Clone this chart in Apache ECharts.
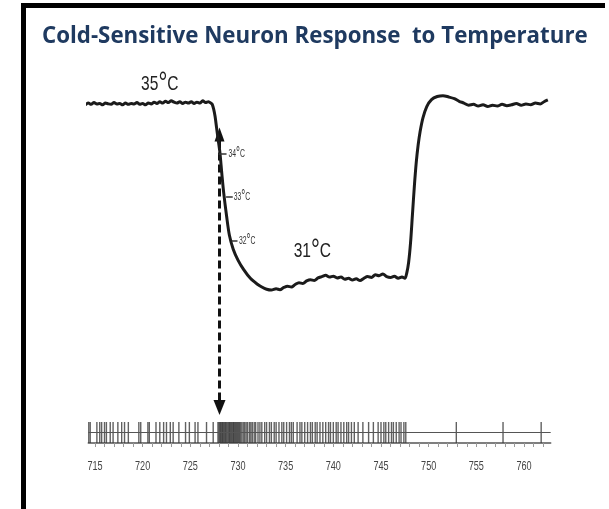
<!DOCTYPE html>
<html>
<head>
<meta charset="utf-8">
<script src="https://cdn.jsdelivr.net/npm/echarts@6/dist/echarts.min.js"></script>
<style>
  html, body { margin: 0; padding: 0; background: #ffffff; }
  #chart { width: 609px; height: 509px; }
</style>
</head>
<body>
<div id="chart"></div>
<script>
// Skin temperature trace (time in s, temperature in °C)
const traceTime = [
  714.0, 714.3, 714.6, 714.9, 715.2, 715.5, 715.8, 716.1, 716.4, 716.7,
  717.0, 717.3, 717.6, 717.9, 718.2, 718.5, 718.8, 719.1, 719.4, 719.7,
  720.0, 720.3, 720.6, 720.9, 721.2, 721.5, 721.8, 722.1, 722.4, 722.7,
  723.0, 723.3, 723.6, 723.9, 724.2, 724.5, 724.8, 725.1, 725.4, 725.7,
  726.0, 726.3, 726.6, 726.9, 727.2, 727.3, 727.45, 727.6, 727.75, 727.9,
  728.1, 728.3, 728.5, 728.8, 729.1, 729.5, 730.0, 730.6, 731.3, 732.0,
  732.5, 733.0, 733.5, 734.0, 734.4, 734.8, 735.2, 735.6, 736.0, 736.4,
  736.8, 737.2, 737.6, 738.0, 738.4, 738.8, 739.2, 739.6, 740.0, 740.4,
  740.8, 741.2, 741.6, 742.0, 742.4, 742.8, 743.2, 743.6, 744.0, 744.4,
  744.8, 745.2, 745.6, 746.0, 746.4, 746.8, 747.2, 747.5, 747.7, 747.9,
  748.1, 748.3, 748.5, 748.7, 748.9, 749.1, 749.4, 749.8, 750.3, 750.9,
  751.5, 752.1, 752.7, 753.2, 753.7, 754.2, 754.7, 755.2, 755.7, 756.2,
  756.7, 757.2, 757.7, 758.2, 758.7, 759.2, 759.7, 760.2, 760.7, 761.2,
  761.7, 762.1, 762.5
];
const traceTemp = [
  35.12, 35.16, 35.13, 35.17, 35.14, 35.15, 35.12, 35.16, 35.14, 35.13,
  35.17, 35.14, 35.15, 35.12, 35.16, 35.13, 35.15, 35.14, 35.17, 35.13,
  35.15, 35.12, 35.16, 35.14, 35.18, 35.15, 35.19, 35.16, 35.20, 35.17,
  35.21, 35.18, 35.16, 35.19, 35.15, 35.18, 35.16, 35.19, 35.15, 35.18,
  35.16, 35.21, 35.17, 35.19, 35.15, 35.13, 35.02, 34.85, 34.60, 34.35,
  34.03, 33.55, 33.10, 32.57, 32.12, 31.80, 31.55, 31.33, 31.13, 31.00,
  30.93, 30.88, 30.86, 30.89, 30.87, 30.92, 30.95, 30.93, 30.99, 31.03,
  31.01, 31.07, 31.10, 31.08, 31.14, 31.17, 31.20, 31.16, 31.18, 31.14,
  31.16, 31.11, 31.13, 31.09, 31.12, 31.08, 31.13, 31.17, 31.15, 31.21,
  31.19, 31.23, 31.17, 31.15, 31.18, 31.13, 31.16, 31.13, 31.25, 31.50,
  31.95, 32.60, 33.25, 33.80, 34.20, 34.50, 34.82, 35.08, 35.24, 35.31,
  35.33, 35.30, 35.26, 35.20, 35.16, 35.11, 35.13, 35.09, 35.12, 35.08,
  35.11, 35.09, 35.13, 35.10, 35.12, 35.15, 35.11, 35.14, 35.12, 35.16,
  35.14, 35.19, 35.23
];

// Action potential times of the cold-sensitive neuron (s)
const spikeTimes = [
  714.35, 714.5,
  715.2, 715.5, 715.7, 716.0, 716.2, 716.6, 716.9, 717.4, 717.8, 718.1, 718.5,
  719.6, 719.8, 720.55, 720.7,
  721.4, 721.8, 722.2, 722.5, 722.9, 723.2, 723.8,
  724.5, 724.9, 725.5, 725.8, 726.7, 727.4,
  727.9, 728.0, 728.1, 728.15, 728.25, 728.35, 728.4, 728.5, 728.6, 728.7,
  728.75, 728.85, 728.95, 729.05, 729.1, 729.2, 729.3, 729.4, 729.5, 729.55,
  729.65, 729.75, 729.85, 729.95, 730.05, 730.15, 730.25, 730.4, 730.55, 730.7,
  730.85,
  731.0, 731.2, 731.35, 731.5, 731.7, 731.85, 732.1, 732.3, 732.5, 732.8,
  733.0, 733.3, 733.5, 733.8, 734.0, 734.3, 734.6, 734.8, 735.1, 735.4,
  735.6, 735.8, 736.2, 736.5, 736.7, 737.0, 737.3, 737.6, 737.8, 738.1,
  738.3, 738.6, 738.9, 739.2, 739.5, 739.7, 740.0, 740.3, 740.5, 740.8,
  741.1, 741.4, 741.6, 741.9, 742.2, 742.6, 743.1, 743.7, 744.2, 744.7,
  745.0, 745.3, 745.5, 745.8, 746.1, 746.3, 746.6, 746.9, 747.1, 747.4,
  747.6,
  752.9, 757.8, 761.8
];

// Time axis labels (s)
const timeLabels = [715, 720, 725, 730, 735, 740, 745, 750, 755, 760];

// Temperature levels marked along the cooling ramp
const levelTemps = [34, 33, 32];
const levelNums = ['34', '33', '32'];

// Plateau annotations
const plateauNums = ['35', '31'];

// Onset of the high-frequency burst (s)
const burstOnset = 728;

// ---------------------------------------------------------------------------
// Layout (annotation placement, kept apart from the data)
const T_MIN = 714.3, T_MAX = 762.8;
const GRID_LEFT = 88.3, GRID_RIGHT = 58.3;
const plateauLabelPos = [[721.8, 35.6], [737.8, 31.76]];
const levelTickSpan = [[727.95, 728.8], [728.75, 729.45], [729.35, 729.95]];
const levelLabelX = [729.0, 729.55, 730.1];
const minorTicks = [];
for (let t = 715; t <= 762; t++) minorTicks.push(t);

const narrowFont = 'Liberation Sans, Arial, sans-serif';

const chart = echarts.init(document.getElementById('chart'), null, { renderer: 'canvas' });

const option = {
  animation: false,
  backgroundColor: '#ffffff',
  title: {
    text: 'Cold-Sensitive Neuron Response  to Temperature',
    left: 37,
    top: 21,
    textStyle: {
      fontFamily: 'Open Sans',
      fontWeight: 'bold',
      fontSize: 22.3,
      color: '#1f3a60'
    }
  },
  grid: [
    { left: GRID_LEFT, right: GRID_RIGHT, top: 70.85, height: 234.9 },
    { left: GRID_LEFT, right: GRID_RIGHT, top: 422, height: 21 }
  ],
  xAxis: [
    { gridIndex: 0, type: 'value', min: T_MIN, max: T_MAX, show: false },
    {
      gridIndex: 1, type: 'value', min: T_MIN, max: T_MAX,
      axisLine: { show: true, lineStyle: { color: '#555', width: 1.5 } },
      axisTick: { show: true, customValues: minorTicks, length: 4, lineStyle: { color: '#999', width: 1 } },
      axisLabel: { show: false },
      splitLine: { show: false }
    }
  ],
  yAxis: [
    { gridIndex: 0, type: 'value', min: 30.5, max: 35.9, show: false },
    { gridIndex: 1, type: 'value', min: 0, max: 1, show: false }
  ],
  series: [
    {
      name: 'temperature',
      type: 'line',
      xAxisIndex: 0, yAxisIndex: 0,
      data: traceTime.map((t, i) => [t, traceTemp[i]]),
      showSymbol: false,
      smooth: 0.3,
      lineStyle: { color: '#1b1b1b', width: 3 },
      z: 3
    },
    {
      name: 'levels',
      type: 'scatter',
      xAxisIndex: 0, yAxisIndex: 0,
      data: levelTemps.map((t, i) => [levelLabelX[i], t]),
      symbolSize: 0,
      markLine: {
        silent: true, symbol: 'none',
        label: { show: false },
        lineStyle: { type: 'solid', color: '#333', width: 1.5 },
        data: levelTemps.map((t, i) => [
          { coord: [levelTickSpan[i][0], t] },
          { coord: [levelTickSpan[i][1], t] }
        ])
      }
    },
    {
      name: 'spikes',
      type: 'scatter',
      xAxisIndex: 1, yAxisIndex: 1,
      data: spikeTimes.map(t => [t, 0.5]),
      symbol: 'rect',
      symbolSize: [1.4, 21],
      itemStyle: { color: '#3a3a3a' },
      markLine: {
        silent: true, symbol: 'none',
        label: { show: false },
        lineStyle: { type: 'solid', color: '#555', width: 1.2 },
        data: [{ yAxis: 0.5 }]
      },
      z: 2
    }
  ]
};

chart.setOption(option);

// Condensed text labels placed through the axis scales
const px = (xi, v) => chart.convertToPixel({ xAxisIndex: xi }, v);
const py = (yi, v) => chart.convertToPixel({ yAxisIndex: yi }, v);

// temperature label with a raised degree sign
function degreeText(num, size, color) {
  return {
    text: num + '{d|°}C',
    font: size + 'px ' + narrowFont,
    fill: color,
    rich: {
      d: { font: Math.round(size * 1.45) + 'px ' + narrowFont, fill: color, verticalAlign: 'top', padding: [0, 0, 0, 0] }
    }
  };
}

const texts = [];
plateauNums.forEach((num, i) => {
  texts.push({
    type: 'text', silent: true,
    x: px(0, plateauLabelPos[i][0]), y: py(0, plateauLabelPos[i][1]),
    scaleX: 0.74,
    style: Object.assign(degreeText(num, 21, '#222'), { align: 'center', verticalAlign: 'middle' })
  });
});
levelNums.forEach((num, i) => {
  texts.push({
    type: 'text', silent: true,
    x: px(0, levelLabelX[i]), y: py(0, levelTemps[i]),
    scaleX: 0.62,
    style: Object.assign(degreeText(num, 11, '#333'), { align: 'left', verticalAlign: 'middle' })
  });
});
const axisY = py(1, 0);
timeLabels.forEach(v => {
  texts.push({
    type: 'text', silent: true,
    x: px(1, v), y: axisY + 23,
    scaleX: 0.7,
    style: { text: String(v), font: '13px ' + narrowFont, fill: '#444', align: 'center', verticalAlign: 'middle' }
  });
});

// Dashed double arrow linking the cooling ramp to the burst onset
const ax = Math.round(px(0, burstOnset)) + 0.5;
const topTip = py(0, 34.6);
const botTip = py(1, 1) - 7;

chart.setOption({
  graphic: [
    // frame
    { type: 'rect', silent: true, shape: { x: 21, y: 3, width: 5, height: 506 }, style: { fill: '#000' } },
    { type: 'rect', silent: true, shape: { x: 21, y: 3, width: 584, height: 5 }, style: { fill: '#000' } },
    // arrow shaft
    {
      type: 'line', silent: true,
      shape: { x1: ax, y1: topTip + 13, x2: ax, y2: botTip - 14 },
      style: { stroke: '#111', lineWidth: 3, lineDash: [8, 4] }
    },
    // arrow heads
    {
      type: 'polygon', silent: true,
      shape: { points: [[ax, topTip], [ax - 5, topTip + 14], [ax + 5, topTip + 14]] },
      style: { fill: '#111' }
    },
    {
      type: 'polygon', silent: true,
      shape: { points: [[ax, botTip], [ax - 6, botTip - 15], [ax + 6, botTip - 15]] },
      style: { fill: '#111' }
    }
  ].concat(texts)
});
</script>
</body>
</html>
